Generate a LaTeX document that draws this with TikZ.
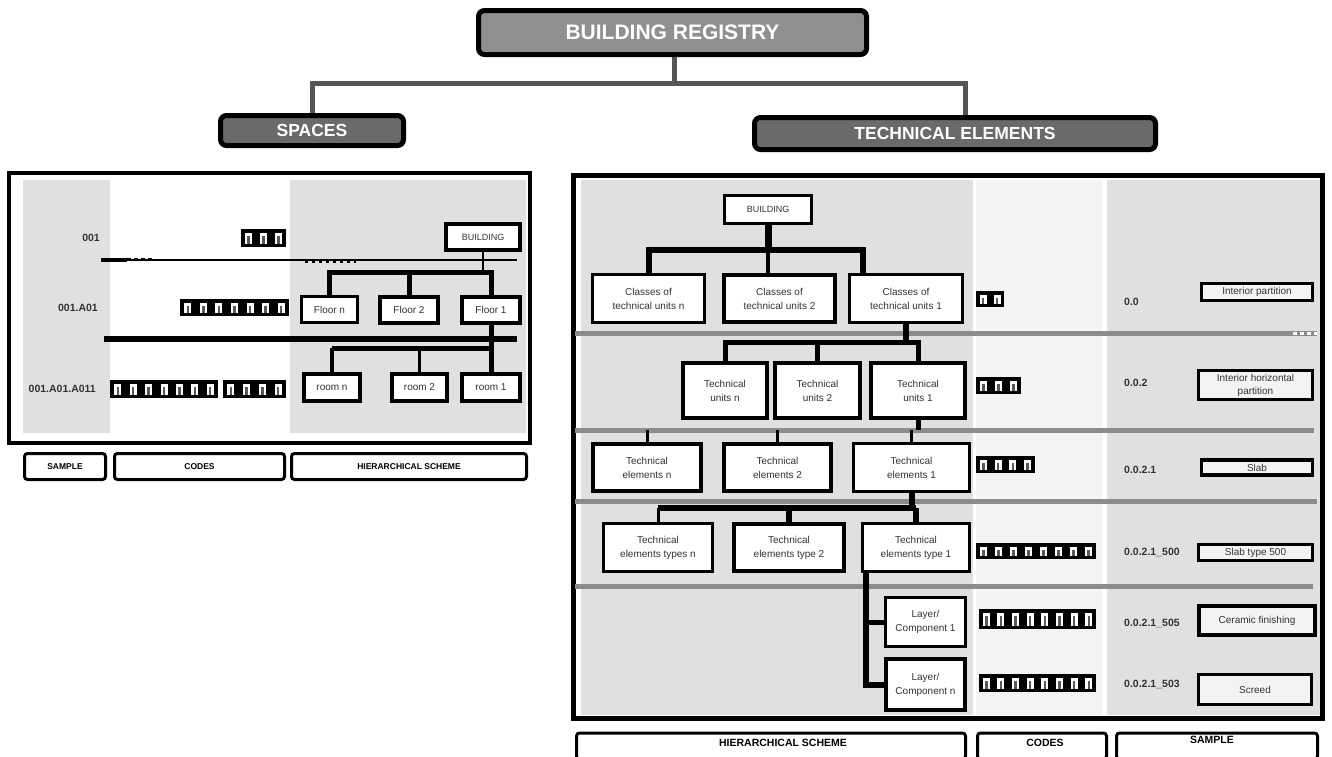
\documentclass[tikz,border=0pt]{standalone}
\usepackage{fontspec}
\setmainfont{Liberation Sans}
\usetikzlibrary{calc}
\definecolor{panelgray}{HTML}{E0E0E0}
\definecolor{codegray}{HTML}{F3F3F3}
\definecolor{sepgray}{HTML}{8C8C8C}
\definecolor{hdrlight}{HTML}{8F8F8F}
\definecolor{hdrdark}{HTML}{6A6A6A}
\definecolor{linkgray}{HTML}{555555}
\definecolor{txtgray}{HTML}{333333}
\newcommand{\codeblk}[5]{%
  \fill[black] (#1,#2) rectangle (#3,#4);
  \pgfmathsetmacro{\cbw}{(#3-#1)/#5}
  \foreach \k in {1,...,#5}{
    \pgfmathsetmacro{\cbx}{#1+(\k-0.5)*\cbw}
    \fill[white] (\cbx-3.5,#2+3.5) rectangle (\cbx+3.5,#4-3.5);
    \fill[black!65] (\cbx-1.2,#2+7) rectangle (\cbx+1.2,#4-3.5);
  }
}
\tikzset{
  hdr/.style={draw=black, line width=5pt, rounded corners=6pt, text=white, font=\bfseries},
  hlink/.style={draw=linkgray, line width=5pt},
  tbox/.style={draw=black, line width=3pt, fill=white, align=center, inner sep=1pt, text=txtgray, font={\fontsize{10}{14}\selectfont}},
  sbox/.style={draw=black, line width=3.5pt, fill=codegray, align=center, inner sep=1pt, text=txtgray, font={\fontsize{10}{13}\selectfont}},
  lbl/.style={draw=black, line width=3pt, rounded corners=3pt, fill=white, inner sep=1pt, font={\bfseries}},
  sep/.style={draw=sepgray, line width=5pt},
  lk3/.style={draw=black, line width=3pt},
  lk5/.style={draw=black, line width=5pt},
  lk6/.style={draw=black, line width=6pt},
  codetxt/.style={anchor=west, inner sep=0pt, text=txtgray, font={\bfseries\fontsize{10.5}{12}\selectfont}},
  sidelbl/.style={anchor=east, inner sep=0pt, text=txtgray, font={\bfseries\fontsize{10.5}{12}\selectfont}}
}
\begin{document}
\begin{tikzpicture}[x=1pt,y=-1pt]
\useasboundingbox (0,0) rectangle (1332,756);
\fill[white] (0,0) rectangle (1332,756);

% ---------- header ----------
\coordinate (hJ) at (674,83);
\coordinate (brpos) at (672.5,32.5);
\coordinate (sppos) at (312,130.5);
\coordinate (tepos) at (955,133.5);
\draw[hlink] (brpos -| hJ) -- (hJ);
\draw[hlink] (sppos) -- (sppos |- hJ) -- ($(tepos |- hJ)+(10,0)$) -- ($(tepos)+(10,0)$);
\node[hdr, fill=hdrlight, minimum width=388pt, minimum height=44pt, font=\bfseries\fontsize{21}{24}\selectfont] (br) at (brpos) {BUILDING REGISTRY};
\node[hdr, fill=hdrdark, minimum width=183pt, minimum height=30pt, font=\bfseries\fontsize{17.5}{20}\selectfont] (spaces) at (sppos) {SPACES};
\node[hdr, fill=hdrdark, minimum width=401pt, minimum height=32pt, font=\bfseries\fontsize{17.5}{20}\selectfont] (tech) at (tepos) {TECHNICAL ELEMENTS};

% ---------- left panel (spaces) ----------
\fill[panelgray] (23,180) rectangle (110,433);
\fill[panelgray] (290,180) rectangle (526,433);
\draw[line width=4pt] (9,173) rectangle (530,443);

\node[sidelbl] (l1) at (100,238) {001};
\node[sidelbl] (l2) at (98,308) {001.A01};
\node[sidelbl] (l3) at (96,389) {001.A01.A011};

\codeblk{241}{229}{286}{247}{3}
\codeblk{180}{299}{289}{316}{7}
\codeblk{110}{380}{218}{398}{7}
\codeblk{223}{380}{286}{398}{4}

\draw[line width=2.5pt] (101,260) -- (517,260);
\draw[line width=4pt] (101,259.5) -- (127,259.5);
\draw[line width=3.5pt, dash pattern=on 4pt off 3pt] (127,259.5) -- (153,259.5);
\draw[line width=2pt, dash pattern=on 3pt off 4pt] (305,262) -- (356,262);
\draw[line width=6pt] (104,339) -- (517,339);

\node[tbox, line width=4pt, minimum width=74pt, minimum height=26pt, font={\fontsize{9}{11}\selectfont}] (bld) at (483,237) {BUILDING};
\node[tbox, minimum width=56pt, minimum height=26pt] (floorn) at (329.5,309.5) {Floor n};
\node[tbox, line width=4pt, minimum width=58pt, minimum height=26pt] (floor2) at (409,309.5) {Floor 2};
\node[tbox, line width=4pt, minimum width=58pt, minimum height=26pt] (floor1) at (491,309.5) {Floor 1};
\node[tbox, line width=4pt, minimum width=56pt, minimum height=27pt] (roomn) at (332,387.5) {room n};
\node[tbox, line width=4pt, minimum width=55pt, minimum height=27pt] (room2) at (419.5,387.5) {room 2};
\node[tbox, line width=4pt, minimum width=58pt, minimum height=27pt] (room1) at (491,387.5) {room 1};

\coordinate (sJ1) at (484,272);
\coordinate (sJ2) at (491,348);
\draw[line width=2.5pt] (bld.south) -- (bld.south |- sJ1);
\draw[lk5] (floorn.north) -- (floorn.north |- sJ1) -- (floor1.north |- sJ1) -- (floor1.north);
\draw[lk5] (floor2.north) -- (floor2.north |- sJ1);
\draw[lk5] (floor1.south) -- (room1.north);
\draw[lk5] (roomn.north |- sJ2) -- (room1.north |- sJ2);
\draw[line width=3.5pt] (roomn.north) -- (roomn.north |- sJ2);
\draw[line width=2.5pt] (room2.north) -- (room2.north |- sJ2);

\node[lbl, minimum width=81pt, minimum height=26pt, font=\bfseries\fontsize{8.5}{10}\selectfont] (sampleL) at (65,466.5) {SAMPLE};
\node[lbl, minimum width=170pt, minimum height=26pt, font=\bfseries\fontsize{8.5}{10}\selectfont] (codesL) at (199.5,466.5) {CODES};
\node[lbl, minimum width=235pt, minimum height=26pt, font=\bfseries\fontsize{8.5}{10}\selectfont] (hierL) at (409,466.5) {HIERARCHICAL SCHEME};

% ---------- right panel (technical elements) ----------
\fill[panelgray] (581,180) rectangle (973,715);
\fill[codegray] (976,180) rectangle (1102,715);
\fill[panelgray] (1107,180) rectangle (1320,715);
\draw[line width=5pt] (573,175) rectangle (1322,718);

\draw[sep] (575,333) -- (1317,333);
\draw[white, line width=3pt, dash pattern=on 4pt off 3pt] (1293,333) -- (1317,333);
\draw[sep] (575,430) -- (1314,430);
\draw[sep] (575,501) -- (1317,501);
\draw[sep] (575,586) -- (1313,586);

\node[tbox, minimum width=87pt, minimum height=28pt, font={\fontsize{9}{11}\selectfont}] (tbuild) at (768,209.5) {BUILDING};
\node[tbox, minimum width=112pt, minimum height=48pt] (classn) at (648.5,298.5) {Classes of\\technical units n};
\node[tbox, line width=4pt, minimum width=111pt, minimum height=47pt] (class2) at (779.5,298.5) {Classes of\\technical units 2};
\node[tbox, minimum width=113pt, minimum height=48pt] (class1) at (906,298.5) {Classes of\\technical units 1};

\node[tbox, line width=4pt, minimum width=84pt, minimum height=55pt] (unitn) at (725,390.5) {Technical\\units n};
\node[tbox, line width=4pt, minimum width=85pt, minimum height=55pt] (unit2) at (817.5,390.5) {Technical\\units 2};
\node[tbox, line width=4pt, minimum width=94pt, minimum height=55pt] (unit1) at (918,390.5) {Technical\\units 1};

\node[tbox, line width=4pt, minimum width=108pt, minimum height=47pt] (eln) at (647,467.5) {Technical\\elements n};
\node[tbox, line width=4pt, minimum width=107pt, minimum height=47pt] (el2) at (777.5,467.5) {Technical\\elements 2};
\node[tbox, minimum width=116pt, minimum height=48pt] (el1) at (911.5,467.5) {Technical\\elements 1};

\node[tbox, minimum width=109pt, minimum height=48pt] (typen) at (658,547.5) {Technical\\elements types n};
\node[tbox, line width=4pt, minimum width=110pt, minimum height=47pt] (type2) at (789,547.5) {Technical\\elements type 2};
\node[tbox, minimum width=107pt, minimum height=48pt] (type1) at (916,547.5) {Technical\\elements type 1};

\node[tbox, minimum width=80pt, minimum height=49pt] (layer1) at (925.5,622) {Layer/\\Component 1};
\node[tbox, line width=4.5pt, minimum width=79pt, minimum height=51pt] (layern) at (925.5,684.5) {Layer/\\Component n};

% connectors
\coordinate (tJ1) at (768,250);
\coordinate (c1in) at ($(class1.north west)+(15,0)$);
\draw[line width=7pt] (tbuild.south) -- (tbuild.south |- tJ1);
\draw[lk6] (classn.north) -- (classn.north |- tJ1) -- (c1in |- tJ1) -- (c1in);
\draw[line width=4pt] (tJ1) -- (tJ1 |- class2.north);

\coordinate (tJ2) at (907,342);
\draw[lk6] (class1.south) -- (class1.south |- tJ2);
\draw[lk5] (unitn.north) -- (unitn.north |- tJ2) -- (unit1.north |- tJ2) -- (unit1.north);
\draw[lk5] (unit2.north) -- (unit2.north |- tJ2);

\coordinate (sep2) at (0,430);
\draw[lk5] (unit1.south) -- (unit1.south |- sep2);
\draw[lk3] (eln.north) -- (eln.north |- sep2);
\draw[lk3] (el2.north) -- (el2.north |- sep2);
\draw[lk3] (el1.north) -- (el1.north |- sep2);

\coordinate (tJ3) at (910,508);
\draw[lk6] (el1.south) -- (el1.south |- tJ3);
\draw[lk6] (typen.north |- tJ3) -- (type1.north |- tJ3);
\draw[lk3] (typen.north) -- (typen.north |- tJ3);
\draw[lk6] (type2.north) -- (type2.north |- tJ3);
\draw[lk6] (type1.north) -- (type1.north |- tJ3);

\coordinate (t1in) at ($(type1.south west)+(5,0)$);
\draw[lk6] (t1in) -- (t1in |- layern.west) -- (layern.west);
\draw[lk5] (t1in |- layer1.west) -- (layer1.west);

% codes column
\codeblk{976}{291}{1004}{307}{2}
\codeblk{976}{377}{1021}{394}{3}
\codeblk{976}{456}{1035}{473}{4}
\codeblk{976}{543}{1096}{559}{8}
\codeblk{979}{609}{1096}{629}{8}
\codeblk{979}{674}{1096}{692}{8}

\node[codetxt] (c1) at (1124,302) {0.0};
\node[codetxt] (c2) at (1124,383) {0.0.2};
\node[codetxt] (c3) at (1124,470) {0.0.2.1};
\node[codetxt] (c4) at (1124,552) {0.0.2.1\_500};
\node[codetxt] (c5) at (1124,623) {0.0.2.1\_505};
\node[codetxt] (c6) at (1124,684) {0.0.2.1\_503};

% sample column
\node[sbox, minimum width=111pt, minimum height=17pt] (s1) at (1257,292) {Interior partition};
\node[sbox, minimum width=114pt, minimum height=29pt] (s2) at (1255.5,385) {Interior horizontal\\partition};
\node[sbox, minimum width=111pt, minimum height=15pt] (s3) at (1257,467.5) {Slab};
\node[sbox, minimum width=114pt, minimum height=16pt] (s4) at (1255.5,552.5) {Slab type 500};
\node[sbox, line width=4.5pt, minimum width=116pt, minimum height=29pt] (s5) at (1257,620.5) {Ceramic finishing};
\node[sbox, minimum width=113pt, minimum height=30pt] (s6) at (1255,689.5) {Screed};

% bottom labels
\node[lbl, minimum width=389pt, minimum height=26pt] (hierR) at (771,746) {};
\node[font=\bfseries\fontsize{10.5}{12}\selectfont] (hierRt) at (783,743) {HIERARCHICAL SCHEME};
\node[lbl, minimum width=129pt, minimum height=26pt] (codesR) at (1042,746) {};
\node[font=\bfseries\fontsize{10.5}{12}\selectfont] (codesRt) at (1045,743) {CODES};
\node[lbl, minimum width=201pt, minimum height=26pt] (sampleR) at (1217,746) {};
\node[font=\bfseries\fontsize{10.5}{12}\selectfont] (sampleRt) at (1212,740) {SAMPLE};
\end{tikzpicture}
\end{document}
